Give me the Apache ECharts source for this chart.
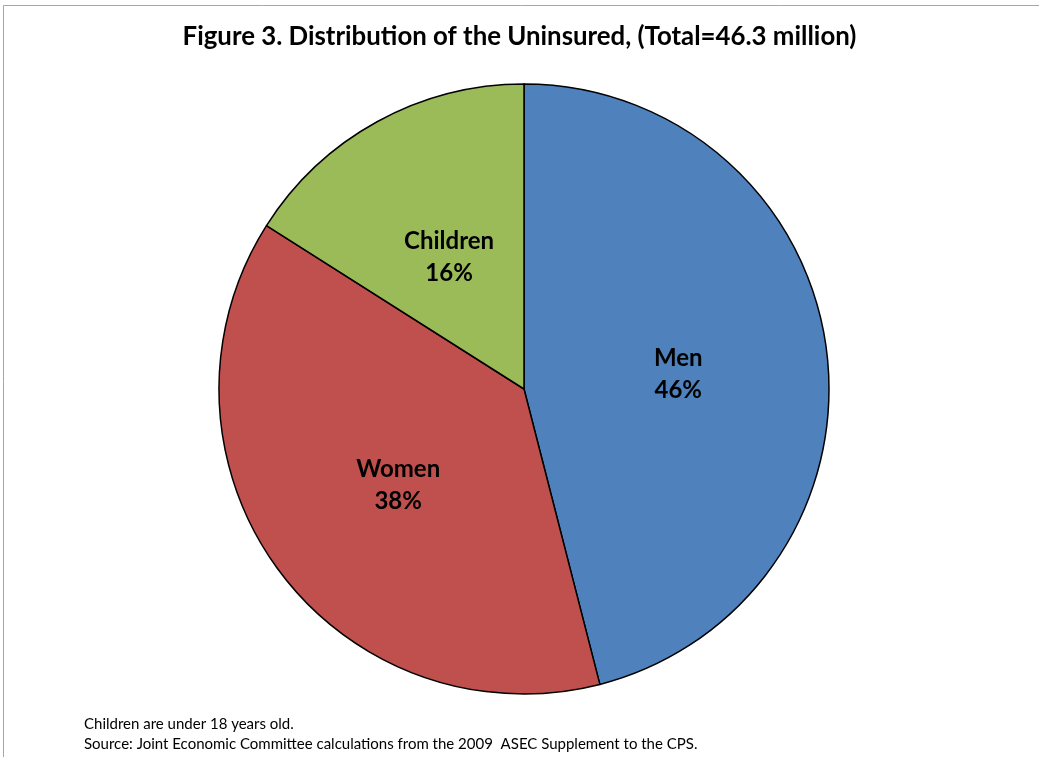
<!DOCTYPE html>
<html>
<head>
<meta charset="utf-8">
<script src="https://cdn.jsdelivr.net/npm/echarts@6/dist/echarts.min.js"></script>
<style>
html,body{margin:0;padding:0;background:#fff;}
#main{width:1039px;height:757px;}
</style>
</head>
<body>
<div id="main"></div>
<script>
// data
var categories=['Men','Women','Children'];
var shares=[46,38,16];
var colors=['#4F81BD','#C0504D','#9BBB59'];
var titleText='Figure 3. Distribution of the Uninsured, (Total=46.3 million)';
var notes=['Children are under 18 years old.','Source: Joint Economic Committee calculations from the 2009  ASEC Supplement to the CPS.'];

var pieData=[];
for(var i=0;i<categories.length;i++){
	pieData.push({name:categories[i],value:shares[i],itemStyle:{color:colors[i]}});
}

var myChart=echarts.init(document.getElementById('main'));
myChart.setOption({
	backgroundColor:'#fff',
	animation:false,
	title:{
		text:titleText,
		left:'center',
		top:19,
		textStyle:{fontFamily:'Lato',fontWeight:'bold',fontSize:25.8,color:'#000'}
	},
	graphic:[
		{type:'rect',shape:{x:3.5,y:5.5,width:1100,height:800},style:{fill:'none',stroke:'#a6a6a6',lineWidth:1}},
		{type:'text',left:84,top:717,style:{text:notes[0],fontFamily:'Lato',fontSize:15,fill:'#000'}},
		{type:'text',left:84,top:737,style:{text:notes[1],fontFamily:'Lato',fontSize:15,fill:'#000'}}
	],
	series:[{
		type:'pie',
		center:[524,389],
		radius:[0,305],
		startAngle:90,
		clockwise:true,
		data:pieData,
		itemStyle:{borderColor:'#000',borderWidth:1.5},
		label:{
			position:'inside',
			formatter:'{b}\n{d}%',
			fontFamily:'Lato',
			fontWeight:'bold',
			fontSize:24,
			lineHeight:32,
			offset:[0,5],
			color:'#000'
		},
		labelLine:{show:false},
		emphasis:{disabled:true}
	}]
});
</script>
</body>
</html>
